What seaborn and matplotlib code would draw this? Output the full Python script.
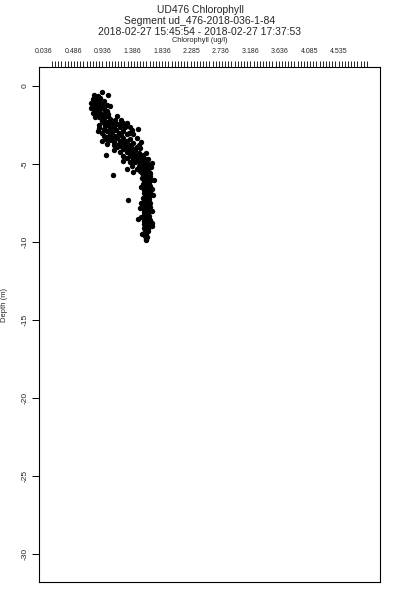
import matplotlib
matplotlib.use("Agg")
import matplotlib.pyplot as plt
import seaborn as sns
import numpy as np
import pandas as pd

# ---- data ----
depth = [
    -0.38, -0.55, -0.62, -0.70, -0.78, -0.85, -0.92, -0.95, -1.00, -1.05, -1.10, -1.15, -0.60, -1.20,
    -1.25, -1.30, -1.35, -1.40, -1.45, -1.50, -1.55, -1.60, -1.65, -1.70, -1.75, -1.80, -1.85, -1.90,
    -1.95, -2.00, -2.05, -2.10, -2.15, -1.30, -1.70, -2.20, -1.95,
    -1.20, -1.50, -1.80, -2.00, -1.40,
    -2.25, -2.30, -2.35, -2.40, -2.45, -2.50, -2.55, -2.60, -2.65, -2.70, -2.75, -2.80, -2.85, -2.90,
    -2.95, -3.00, -3.05, -3.10, -3.15, -2.60, -2.35, -2.70, -3.00, -2.76,
    -2.40, -2.50, -2.80, -3.10, -3.20, -3.30, -2.90, -3.40, -2.60, -3.00, -2.20, -2.45,
    -3.20, -3.25, -3.30, -3.35, -3.40, -3.45, -3.50, -3.55, -3.60, -3.65, -3.70, -3.75, -3.80, -3.85,
    -3.90, -3.95, -4.00, -4.05, -4.10, -4.15, -3.50, -3.60, -3.30, -4.40,
    -3.70, -3.80, -3.90, -4.00, -4.20, -4.30, -3.60, -4.10, -3.75,
    -4.20, -4.25, -4.30, -4.35, -4.40, -4.45, -4.50, -4.55, -4.60, -4.65, -4.70, -4.75, -4.80, -4.85,
    -4.90, -4.95, -5.00, -5.05, -5.10, -5.15, -4.50, -4.90, -5.00,
    -4.60, -4.70, -4.80, -5.10, -5.20, -5.30, -4.95,
    -5.20, -5.25, -5.30, -5.35, -5.40, -5.45, -5.50, -5.55, -5.60, -5.65, -5.70, -5.75, -5.80, -5.85,
    -5.90, -5.95, -6.00, -6.05, -6.10, -6.15, -5.70, -5.50,
    -6.20, -6.25, -6.30, -6.35, -6.40, -6.45, -6.50, -6.55, -6.60, -6.65, -6.70, -6.75, -6.80, -6.85,
    -6.90, -6.95, -7.00, -7.05, -7.10, -7.15,
    -7.20, -7.25, -7.30, -7.35, -7.40, -7.45, -7.50, -7.55, -7.60, -7.65, -7.70, -7.75, -7.80, -7.85,
    -7.90, -7.95, -8.00, -8.05, -8.10, -8.15,
    -8.20, -8.25, -8.30, -8.35, -8.40, -8.45, -8.50, -8.55, -8.60, -8.65, -8.70, -8.75, -8.80, -8.85,
    -8.90, -8.95, -9.00, -9.05, -9.10, -9.15,
    -9.20, -9.30, -9.40, -9.50, -9.60, -9.70, -9.80, -9.90,
    -6.50, -7.00, -7.50, -8.00, -8.40, -9.00, -6.00, -7.80, -8.80, -9.50,
]
chlorophyll = [
    0.93, 0.80, 0.86, 0.82, 0.90, 0.78, 0.84, 0.95, 0.80, 0.87, 0.76, 0.83, 1.02, 0.92,
    0.80, 0.86, 0.78, 0.93, 0.84, 0.80, 0.88, 1.00, 0.82, 0.90, 0.86, 0.95, 0.84, 0.91,
    1.02, 0.88, 0.96, 1.05, 0.92, 1.05, 0.79, 1.12, 1.15,
    1.00, 0.96, 1.02, 0.82, 0.76,
    0.92, 1.00, 1.08, 0.95, 1.15, 1.02, 0.97, 1.10, 1.20, 1.05, 0.95, 1.13, 1.25, 1.00,
    1.08, 1.18, 1.30, 1.05, 1.22, 1.28, 1.25, 0.88, 0.92, 1.47,
    1.30, 0.88, 1.38, 1.40, 0.95, 1.45, 0.86, 0.98, 1.35, 1.34, 1.22, 1.20,
    1.12, 1.00, 1.25, 1.15, 1.35, 1.05, 1.20, 1.30, 1.10, 1.40, 1.18, 1.28, 1.35, 1.22,
    1.45, 1.30, 1.38, 1.25, 1.42, 1.33, 0.92, 1.52, 1.08, 0.98,
    1.00, 1.10, 1.15, 1.50, 1.20, 1.60, 1.25, 1.10, 1.48,
    1.40, 1.30, 1.48, 1.36, 1.55, 1.42, 1.35, 1.50, 1.45, 1.58, 1.40, 1.52, 1.47, 1.60,
    1.43, 1.55, 1.50, 1.62, 1.48, 1.56, 1.25, 1.35, 1.66,
    1.30, 1.62, 1.25, 1.38, 1.67, 1.30, 1.68,
    1.52, 1.60, 1.45, 1.57, 1.63, 1.50, 1.58, 1.65, 1.54, 1.61, 1.56, 1.66, 1.58, 1.62,
    1.53, 1.64, 1.59, 1.67, 1.56, 1.62, 1.09, 1.40,
    1.58, 1.64, 1.55, 1.61, 1.66, 1.57, 1.63, 1.59, 1.68, 1.56, 1.62, 1.60, 1.65, 1.57,
    1.63, 1.60, 1.66, 1.58, 1.62, 1.55,
    1.60, 1.64, 1.32, 1.58, 1.62, 1.56, 1.66, 1.59, 1.63, 1.57, 1.61, 1.65, 1.58, 1.62,
    1.56, 1.60, 1.64, 1.57, 1.61, 1.59,
    1.62, 1.56, 1.60, 1.64, 1.58, 1.62, 1.47, 1.60, 1.65, 1.57, 1.61, 1.59, 1.63, 1.56,
    1.60, 1.62, 1.58, 1.61, 1.57, 1.63,
    1.59, 1.62, 1.57, 1.60, 1.58, 1.61, 1.59, 1.60,
    1.52, 1.70, 1.52, 1.69, 1.52, 1.68, 1.72, 1.51, 1.68, 1.54,
]
x_tick_values = [0.036, 0.486, 0.936, 1.386, 1.836, 2.286, 2.736, 3.186, 3.636, 4.086, 4.536]
x_tick_labels = ["0.036", "0.486", "0.936", "1.386", "1.836", "2.285", "2.736", "3.186", "3.636", "4.085", "4.535"]
y_ticks = [0, -5, -10, -15, -20, -25, -30]

title_lines = ["UD476 Chlorophyll",
               "Segment ud_476-2018-036-1-84",
               "2018-02-27 15:45:54 - 2018-02-27 17:37:53"]
x_label = "Chlorophyll (ug/l)"
y_label = "Depth (m)"

df = pd.DataFrame({"chl": chlorophyll, "depth": depth})

sns.set_style("white")
plt.rcParams["font.family"] = ["Liberation Sans", "DejaVu Sans"]

fig = plt.figure(figsize=(4, 6), dpi=100)
ax = fig.add_axes([0.0975, 0.0305, 0.8525, 0.8583])

sns.scatterplot(data=df, x="chl", y="depth", ax=ax, color="black",
                s=15, linewidth=0, marker="o", legend=False)

ax.set_xlim(-0.037, 5.161)
ax.set_ylim(-31.78, 1.24)

for sp in ax.spines.values():
    sp.set_color("black")
    sp.set_linewidth(0.8)

# top x axis
ax.xaxis.tick_top()
ax.set_xticks(x_tick_values)
ax.set_xticklabels(x_tick_labels, fontsize=5)
ax.tick_params(axis="x", which="major", length=0, pad=8.5, top=True, bottom=False)
ax.set_xticks(np.arange(0.161, 4.97, 0.048), minor=True)
ax.tick_params(axis="x", which="minor", length=4.2, width=0.6, direction="out",
               top=True, bottom=False, color="black")
ax.set_xlabel("")

# left y axis
ax.set_yticks(y_ticks)
ax.set_yticklabels([str(v) for v in y_ticks], rotation=90, va="center", fontsize=6)
ax.tick_params(axis="y", which="major", length=5, width=0.7, direction="out",
               left=True, pad=2.5, color="black")
ax.set_ylabel(y_label, fontsize=5.5)
ax.yaxis.set_label_coords(-0.091, 0.537)

# titles
fig.text(0.5, 0.983, title_lines[0], ha="center", va="center", fontsize=7.5)
fig.text(0.5, 0.965, title_lines[1], ha="center", va="center", fontsize=7.5)
fig.text(0.5, 0.947, title_lines[2], ha="center", va="center", fontsize=7.5)
fig.text(0.5, 0.933, x_label, ha="center", va="center", fontsize=5.3)

fig.savefig("out.png", dpi=100)
